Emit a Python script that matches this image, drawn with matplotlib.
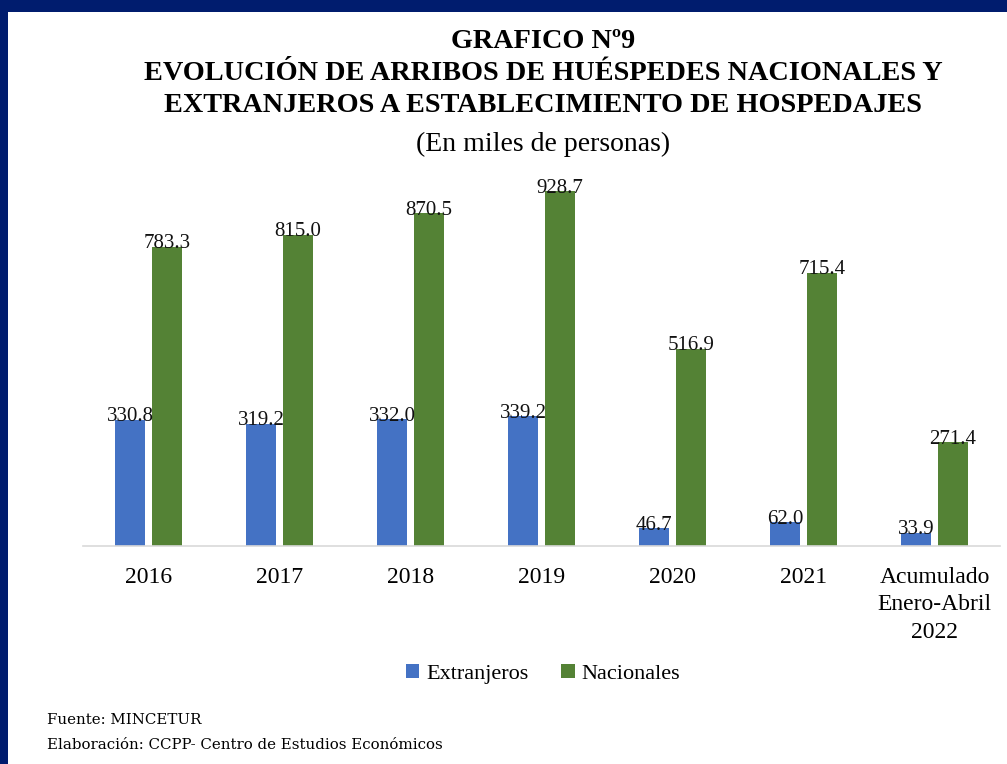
import numpy as np
import matplotlib.pyplot as plt
from matplotlib.patches import Rectangle

plt.rcParams['font.family'] = ['Liberation Serif', 'DejaVu Serif']

# Data (miles de personas)
categorias = ['2016', '2017', '2018', '2019', '2020', '2021',
              'Acumulado\nEnero-Abril\n2022']
extranjeros = [330.8, 319.2, 332.0, 339.2, 46.7, 62.0, 33.9]
nacionales = [783.3, 815.0, 870.5, 928.7, 516.9, 715.4, 271.4]

azul = '#4472C4'
verde = '#548235'

fig = plt.figure(figsize=(10.07, 7.64), dpi=100)
fig.patch.set_facecolor('#001C6E')
# white sheet inside navy frame (top and left border)
fig.patches.append(Rectangle((8 / 1007, 0), 1, 1 - 12 / 764,
                             transform=fig.transFigure, facecolor='white',
                             edgecolor='none', zorder=-10))

ax = fig.add_axes([83 / 1007, 1 - 546 / 764, 917 / 1007, 382 / 764])
ax.set_facecolor('none')
ax.set_zorder(2)

x = np.arange(len(categorias))
w = 0.23
off = 0.141
b1 = ax.bar(x - off, extranjeros, w, color=azul, label='Extranjeros')
b2 = ax.bar(x + off, nacionales, w, color=verde, label='Nacionales')

for bars, vals in ((b1, extranjeros), (b2, nacionales)):
    for r, v in zip(bars, vals):
        ax.annotate(f'{v:.1f}', (r.get_x() + r.get_width() / 2, v),
                    xytext=(0, -1), textcoords='offset points',
                    ha='center', va='baseline', fontsize=15, color='#111111')

ax.set_xlim(-0.5, len(categorias) - 0.5)
ax.set_ylim(0, 1000)
ax.set_yticks([])
ax.set_xticks(x)
ax.set_xticklabels(categorias, fontsize=17, linespacing=1.4)
ax.tick_params(axis='x', length=0, pad=15)
for s in ['top', 'right', 'left']:
    ax.spines[s].set_visible(False)
ax.spines['bottom'].set_color('#D9D9D9')
ax.spines['bottom'].set_linewidth(1.2)

leg = ax.legend(loc='center', bbox_to_anchor=(543 / 1007, 1 - 674 / 764),
                bbox_transform=fig.transFigure, ncol=2, frameon=False,
                fontsize=16, handlelength=0.6, handleheight=0.6,
                handletextpad=0.3, columnspacing=1.5)

# Titles
tx = 543 / 1007
fig.text(tx, 1 - 41 / 764, 'GRAFICO Nº9', ha='center', va='center',
         fontsize=20.3, fontweight='bold', zorder=3)
fig.text(tx, 1 - 73 / 764, 'EVOLUCIÓN DE ARRIBOS DE HUÉSPEDES NACIONALES Y',
         ha='center', va='center', fontsize=20.3, fontweight='bold', zorder=3)
fig.text(tx, 1 - 105 / 764, 'EXTRANJEROS A ESTABLECIMIENTO DE HOSPEDAJES',
         ha='center', va='center', fontsize=20.3, fontweight='bold', zorder=3)
fig.text(tx, 1 - 144 / 764, '(En miles de personas)', ha='center',
         va='center', fontsize=20, zorder=3)

# Footer
fig.text(47 / 1007, 1 - 720 / 764, 'Fuente: MINCETUR', ha='left',
         va='center', fontsize=10.8, family='DejaVu Serif', zorder=3)
fig.text(47 / 1007, 1 - 745 / 764,
         'Elaboración: CCPP- Centro de Estudios Económicos', ha='left',
         va='center', fontsize=10.8, family='DejaVu Serif', zorder=3)

fig.savefig('out.png', dpi=100, facecolor=fig.get_facecolor())
